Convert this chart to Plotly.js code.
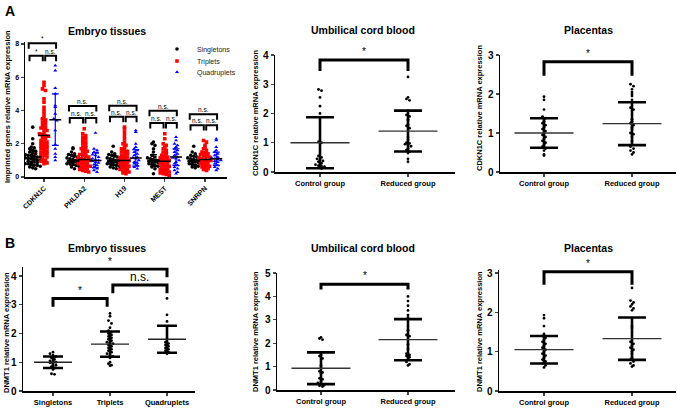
<!DOCTYPE html>
<html>
<head>
<meta charset="utf-8">
<script src="https://cdn.plot.ly/plotly-3.0.1.min.js"></script>
<style>html,body{margin:0;padding:0;background:#fff}</style>
</head>
<body>
<div id="chart" style="width:677px;height:408px"></div>
<script>
const W = 677, H = 408;
const FONT = 'Arial, "Liberation Sans", sans-serif';

// ---- Panel A, embryo tissues: imprinted genes ----
const genes = ['CDKN1C', 'PHLDA2', 'H19', 'MEST', 'SNRPN'];
const groupNames = ['Singletons', 'Triplets', 'Quadruplets'];
const groupColors = ['#000000', '#ff0000', '#0000ff'];
const groupSymbols = ['circle', 'square', 'triangle-up'];

const singletonsA = [
  [3.0, 2.3, 2.0, 1.8, 1.75, 1.7, 1.6, 1.55, 1.5, 1.45, 1.4, 1.35, 1.3, 1.3, 1.25, 1.2, 1.2, 1.15, 1.1, 1.1, 1.05, 1.0, 1.0, 0.95, 0.9, 0.9, 0.85, 0.8, 0.8, 0.75, 0.7, 0.7, 0.65, 0.6, 0.55, 0.5],
  [1.75, 1.7, 1.5, 1.4, 1.35, 1.3, 1.25, 1.2, 1.15, 1.1, 1.05, 1.0, 1.0, 0.95, 0.9, 0.9, 0.85, 0.8, 0.8, 0.75, 0.7, 0.65, 0.6, 0.5],
  [1.85, 1.5, 1.4, 1.35, 1.3, 1.25, 1.2, 1.15, 1.1, 1.05, 1.0, 1.0, 0.95, 0.9, 0.9, 0.85, 0.8, 0.8, 0.75, 0.7, 0.65, 0.6, 0.55, 0.5],
  [2.1, 2.0, 1.9, 1.7, 1.5, 1.3, 1.2, 1.15, 1.1, 1.05, 1.0, 1.0, 0.95, 0.9, 0.9, 0.85, 0.8, 0.75, 0.7, 0.65, 0.6, 0.5, 0.2],
  [1.85, 1.5, 1.4, 1.3, 1.25, 1.2, 1.15, 1.1, 1.05, 1.0, 1.0, 0.95, 0.9, 0.9, 0.85, 0.8, 0.75, 0.7, 0.65, 0.6, 0.55]
];
const tripletsA = [
  [5.7, 5.5, 5.3, 5.2, 4.7, 4.5, 4.2, 4.0, 3.8, 3.6, 3.5, 3.4, 3.3, 3.2, 3.1, 3.0, 2.95, 2.9, 2.8, 2.7, 2.6, 2.55, 2.5, 2.45, 2.4, 2.3, 2.2, 2.15, 2.1, 2.0, 1.95, 1.9, 1.85, 1.8, 1.75, 1.7, 1.6, 1.55, 1.5, 1.45, 1.4, 1.35, 1.3, 1.2, 1.1, 1.0, 0.95, 0.9, 0.85, 0.8],
  [2.9, 2.6, 2.5, 2.4, 2.3, 2.2, 2.1, 2.0, 1.9, 1.8, 1.75, 1.7, 1.6, 1.55, 1.5, 1.4, 1.35, 1.3, 1.25, 1.2, 1.15, 1.1, 1.05, 1.0, 1.0, 0.95, 0.9, 0.85, 0.8, 0.8, 0.75, 0.7, 0.65, 0.6, 0.55, 0.5, 0.45, 0.4, 0.35, 0.3],
  [3.0, 2.9, 2.7, 2.5, 2.3, 2.1, 2.0, 1.9, 1.8, 1.7, 1.6, 1.55, 1.5, 1.45, 1.4, 1.3, 1.25, 1.2, 1.15, 1.1, 1.05, 1.0, 0.95, 0.9, 0.85, 0.8, 0.75, 0.7, 0.65, 0.6, 0.55, 0.5, 0.45, 0.4, 0.35, 0.3, 0.25, 0.2],
  [2.6, 2.3, 2.0, 1.9, 1.8, 1.7, 1.6, 1.5, 1.4, 1.3, 1.25, 1.2, 1.15, 1.1, 1.05, 1.0, 0.95, 0.9, 0.85, 0.8, 0.75, 0.7, 0.65, 0.6, 0.55, 0.5, 0.45, 0.4, 0.35, 0.3, 0.25, 0.2, 0.15, 0.1],
  [2.2, 2.1, 1.9, 1.8, 1.7, 1.6, 1.5, 1.45, 1.4, 1.35, 1.3, 1.25, 1.2, 1.15, 1.1, 1.05, 1.0, 1.0, 0.95, 0.9, 0.85, 0.8, 0.75, 0.7, 0.65, 0.6, 0.55, 0.5, 0.45, 0.4]
];
const quadrupletsA = [
  [6.7, 6.4, 5.35, 5.0, 4.3, 4.2, 3.8, 3.5, 3.4, 2.8, 1.95, 1.7, 1.4, 1.2, 1.0],
  [2.65, 1.7, 1.6, 1.5, 1.45, 1.35, 1.3, 1.2, 1.1, 1.05, 1.0, 0.95, 0.9, 0.85, 0.75, 0.7, 0.6, 0.5, 0.4, 0.3],
  [2.8, 2.7, 2.0, 1.8, 1.7, 1.6, 1.5, 1.4, 1.3, 1.2, 1.15, 1.1, 1.0, 0.9, 0.85, 0.8, 0.7, 0.6, 0.5],
  [2.4, 2.2, 2.0, 1.9, 1.8, 1.7, 1.6, 1.5, 1.4, 1.3, 1.2, 1.15, 1.1, 1.0, 0.9, 0.8, 0.7, 0.6, 0.5, 0.4, 0.3, 0.2],
  [2.3, 2.2, 1.8, 1.6, 1.5, 1.4, 1.3, 1.2, 1.15, 1.1, 1.05, 1.0, 0.95, 0.9, 0.8, 0.7, 0.6, 0.5, 0.4]
];
const meansA = [[1.15, 1.0, 1.0, 1.0, 1.0], [2.5, 1.05, 1.0, 0.95, 1.05], [3.45, 1.0, 1.15, 1.2, 1.1]];
const sdsA = [[0.45, 0.3, 0.3, 0.35, 0.25], [1.0, 0.5, 0.6, 0.5, 0.35], [1.55, 0.45, 0.5, 0.5, 0.4]];
const lowBracketA = [7.3, 3.55, 3.62, 3.25, 3.12];
const highBracketA = [8.04, 4.27, 4.29, 3.99, 3.78];
const lowLabelsA = [['*', 'n.s.'], ['n.s.', 'n.s.'], ['n.s.', 'n.s.'], ['n.s.', 'n.s.'], ['n.s.', 'n.s.']];
const highLabelsA = ['*', 'n.s.', 'n.s.', 'n.s.', 'n.s.'];

// ---- Two-group panels ----
const twoGroups = ['Control group', 'Reduced group'];
const controlUcbA = [2.82, 2.78, 2.55, 2.25, 2.0, 1.03, 1.0, 0.55, 0.5, 0.45, 0.42, 0.38, 0.35, 0.3, 0.25, 0.22, 0.2, 0.18, 0.15, 0.12];
const reducedUcbA = [3.25, 2.55, 2.5, 2.45, 2.1, 1.95, 1.9, 1.8, 1.75, 1.62, 1.58, 1.5, 1.2, 1.1, 1.0, 0.98, 0.95, 0.92, 0.88, 0.8, 0.75, 0.7, 0.65, 0.45, 0.35];
const meanUcbA = [1.0, 1.4], sdUcbA = [0.87, 0.7];

const controlPlaA = [1.93, 1.85, 1.6, 1.42, 1.38, 1.3, 1.25, 1.2, 1.15, 1.1, 1.05, 1.0, 0.95, 0.9, 0.85, 0.8, 0.75, 0.7, 0.65, 0.6, 0.55, 0.45, 0.42];
const reducedPlaA = [2.25, 2.2, 2.12, 2.05, 2.0, 1.95, 1.85, 1.65, 1.6, 1.35, 1.3, 1.25, 1.2, 1.15, 1.1, 1.0, 0.97, 0.9, 0.8, 0.7, 0.65, 0.6, 0.55, 0.5, 0.45];
const meanPlaA = [1.0, 1.24], sdPlaA = [0.38, 0.55];

// ---- Panel B, embryo tissues: DNMT1 ----
const singletonsB = [1.35, 1.3, 1.25, 1.2, 1.15, 1.1, 1.05, 1.02, 1.0, 0.98, 0.95, 0.9, 0.85, 0.8, 0.75, 0.6, 0.58];
const tripletsB = [2.7, 2.6, 2.45, 2.35, 2.2, 2.1, 2.05, 2.0, 1.95, 1.9, 1.85, 1.8, 1.75, 1.7, 1.68, 1.65, 1.6, 1.55, 1.5, 1.45, 1.4, 1.35, 1.3, 1.25, 1.2, 1.15, 1.0, 0.95, 0.9, 0.88];
const quadrupletsB = [3.22, 2.65, 2.42, 1.7, 1.65, 1.6, 1.55, 1.5, 1.45, 1.4, 1.35, 1.3];
const meanEmbB = [1.0, 1.63, 1.8], sdEmbB = [0.2, 0.44, 0.47];

const controlUcbB = [2.25, 2.2, 2.15, 1.5, 1.45, 1.35, 1.05, 0.95, 0.8, 0.75, 0.7, 0.5, 0.45, 0.35, 0.3, 0.25, 0.2, 0.18, 0.15];
const reducedUcbB = [4.0, 3.8, 3.6, 3.4, 3.2, 3.1, 2.55, 2.35, 2.3, 1.95, 1.75, 1.55, 1.5, 1.45, 1.4, 1.3, 1.2, 1.1, 1.05];
const meanUcbB = [0.93, 2.15], sdUcbB = [0.68, 0.88];

const controlPlaB = [1.93, 1.85, 1.65, 1.45, 1.4, 1.35, 1.3, 1.25, 1.2, 1.15, 1.1, 1.05, 1.0, 0.95, 0.9, 0.85, 0.8, 0.75, 0.7, 0.65, 0.6];
const reducedPlaB = [2.62, 2.3, 2.25, 2.2, 2.15, 2.1, 2.05, 1.65, 1.6, 1.25, 1.2, 1.15, 1.1, 1.05, 1.0, 0.95, 0.85, 0.8, 0.75, 0.7, 0.65, 0.62];
const meanPlaB = [1.05, 1.33], sdPlaB = [0.35, 0.54];

// panel boxes in pixels: x axis span, first category px, category step px, y=0 px, a reference tick
const panels = {
  aEmb: { ax: '',  x0: 25,  x1: 227, c0: 44,  step: 40.25, zeroPx: 177, tick: [8, 44],  ymax: 8.15, dtick: 2 },
  aUcb: { ax: '2', x0: 275, x1: 455, c0: 320, step: 88,    zeroPx: 172, tick: [4, 55],  ymax: 4,    dtick: 1 },
  aPla: { ax: '3', x0: 500, x1: 676, c0: 544, step: 88,    zeroPx: 172, tick: [3, 55],  ymax: 3,    dtick: 1 },
  bEmb: { ax: '4', x0: 23,  x1: 195, c0: 53,  step: 57,    zeroPx: 391, tick: [4, 276], ymax: 4.3,  dtick: 1 },
  bUcb: { ax: '5', x0: 277, x1: 455, c0: 321, step: 87,    zeroPx: 390, tick: [5, 273], ymax: 5,    dtick: 1 },
  bPla: { ax: '6', x0: 499, x1: 676, c0: 544, step: 88,    zeroPx: 391, tick: [3, 273], ymax: 3.08, dtick: 1 }
};
for (const p of Object.values(panels)) {
  p.ppy = (p.zeroPx - p.tick[1]) / p.tick[0];
  p.topPx = p.zeroPx - p.ymax * p.ppy;
  p.xr = [(p.x0 - p.c0) / p.step, (p.x1 - p.c0) / p.step];
}

// spread points sideways when they share a value band
function swarm(values, center, p, d) {
  const keys = values.map(v => Math.round(v * p.ppy / d));
  const counts = {}, seen = {};
  keys.forEach(k => counts[k] = (counts[k] || 0) + 1);
  return values.map((v, i) => {
    const k = keys[i];
    seen[k] = seen[k] === undefined ? 0 : seen[k] + 1;
    return center + (seen[k] - (counts[k] - 1) / 2) * d / p.step;
  });
}

const data = [];
const shapes = [];
const annotations = [];

function pointsTrace(p, values, center, opts) {
  data.push(Object.assign({
    x: swarm(values, center, p, opts.spread),
    y: values,
    type: 'scatter', mode: 'markers',
    xaxis: 'x' + p.ax, yaxis: 'y' + p.ax,
    marker: { color: opts.color || '#000', size: opts.size, symbol: opts.symbol || 'circle' },
    showlegend: false, hoverinfo: 'y'
  }, opts.extra || {}));
}

function meanSdTrace(p, mean, sd, center, o) {
  data.push({
    x: [center], y: [mean], type: 'scatter', mode: 'markers',
    xaxis: 'x' + p.ax, yaxis: 'y' + p.ax, showlegend: false, hoverinfo: 'y',
    marker: { symbol: 'line-ew', size: o.meanLen / 1.4, line: { width: o.meanW, color: o.meanColor } },
    error_y: { type: 'data', array: [sd], visible: true, color: o.barColor, thickness: o.barW, width: o.cap }
  });
}

function bracket(p, xa, xb, top, tip, label, o) {
  shapes.push({
    type: 'path', xref: 'x' + p.ax, yref: 'y' + p.ax,
    path: `M${xa},${tip} L${xa},${top} L${xb},${top} L${xb},${tip}`,
    line: { color: '#000', width: o.w }
  });
  annotations.push({
    x: (xa + xb) / 2, y: top, xref: 'x' + p.ax, yref: 'y' + p.ax,
    text: label, showarrow: false, yanchor: 'bottom', yshift: o.shift,
    font: { family: FONT, size: o.size, color: '#000' }
  });
}

// Panel A embryo
const offA = [-0.28, 0, 0.28];
const setsA = [singletonsA, tripletsA, quadrupletsA];
const legendIds = ['legend', 'legend2', 'legend3'];
genes.forEach((g, gi) => {
  setsA.forEach((set, k) => {
    pointsTrace(panels.aEmb, set[gi], gi + offA[k], {
      spread: 3, size: 3.6, color: groupColors[k], symbol: groupSymbols[k],
      extra: { name: groupNames[k], legendgroup: groupNames[k], legend: legendIds[k], showlegend: gi === 0 }
    });
  });
  setsA.forEach((set, k) => {
    meanSdTrace(panels.aEmb, meansA[k][gi], sdsA[k][gi], gi + offA[k],
      { meanLen: 12, meanW: 1.5, meanColor: '#000', barColor: groupColors[k], barW: 1.2, cap: 3.5 });
  });
  const lo = lowBracketA[gi], hi = highBracketA[gi];
  bracket(panels.aEmb, gi - 0.36, gi - 0.03, lo, lo - 0.33, lowLabelsA[gi][0], { w: 2, size: 6.5, shift: -1 });
  bracket(panels.aEmb, gi + 0.03, gi + 0.3, lo, lo - 0.33, lowLabelsA[gi][1], { w: 2, size: 6.5, shift: -1 });
  bracket(panels.aEmb, gi - 0.38, gi + 0.3, hi, hi - 0.33, highLabelsA[gi], { w: 2, size: 6.5, shift: -1 });
});

// two-group panels
function twoGroupPanel(p, ctrl, red, means, sds, br) {
  [ctrl, red].forEach((vals, i) => pointsTrace(p, vals, i, { spread: 3, size: 2.8 }));
  means.forEach((m, i) => meanSdTrace(p, m, sds[i], i,
    { meanLen: 59, meanW: 1.3, meanColor: '#333', barColor: '#000', barW: 2.6, cap: 14 }));
  bracket(p, 0, 1, br[0], br[1], '*', { w: 3, size: 10, shift: 1 });
}
twoGroupPanel(panels.aUcb, controlUcbA, reducedUcbA, meanUcbA, sdUcbA, [3.83, 3.45]);
twoGroupPanel(panels.aPla, controlPlaA, reducedPlaA, meanPlaA, sdPlaA, [2.83, 2.47]);
twoGroupPanel(panels.bUcb, controlUcbB, reducedUcbB, meanUcbB, sdUcbB, [4.52, 4.3]);
twoGroupPanel(panels.bPla, controlPlaB, reducedPlaB, meanPlaB, sdPlaB, [3.03, 2.7]);

// Panel B embryo
[singletonsB, tripletsB, quadrupletsB].forEach((vals, i) => pointsTrace(panels.bEmb, vals, i, { spread: 3, size: 2.8 }));
meanEmbB.forEach((m, i) => meanSdTrace(panels.bEmb, m, sdEmbB[i], i,
  { meanLen: 38, meanW: 1.3, meanColor: '#222', barColor: '#000', barW: 2.6, cap: 10 }));
bracket(panels.bEmb, 0, 0.95, 3.22, 2.93, '*', { w: 3, size: 10, shift: 0 });
bracket(panels.bEmb, 1.05, 2, 3.69, 3.4, 'n.s.', { w: 3, size: 12, shift: -1 });
bracket(panels.bEmb, 0, 2, 4.24, 3.96, '*', { w: 3, size: 10, shift: 0 });

// layout
const layout = {
  width: W, height: H,
  margin: { l: 0, r: 0, t: 0, b: 0 },
  paper_bgcolor: '#fff', plot_bgcolor: 'rgba(0,0,0,0)',
  font: { family: FONT, color: '#000' },
  showlegend: true,
  shapes: shapes,
  annotations: annotations
};
// one small legend per group so the rows sit close together
const legendRowsPx = [49, 61, 72];
legendIds.forEach((id, k) => {
  layout[id] = {
    x: 157 / W, y: 1 - legendRowsPx[k] / H, xanchor: 'left', yanchor: 'middle',
    font: { family: FONT, size: 7, color: '#222' },
    bgcolor: 'rgba(0,0,0,0)', itemwidth: 30, tracegroupgap: 0
  };
});

function axisPair(p, ticktext, tickFont, xTickFont, tickangle) {
  const xa = 'xaxis' + p.ax, ya = 'yaxis' + p.ax;
  layout[xa] = {
    domain: [p.x0 / W, p.x1 / W], range: p.xr, anchor: 'y' + p.ax,
    showline: true, linecolor: '#000', linewidth: 1.5, ticks: 'outside', ticklen: 3, tickwidth: 1.2,
    tickvals: ticktext.map((t, i) => i), ticktext: ticktext, tickangle: tickangle,
    tickfont: xTickFont, showgrid: false, zeroline: false, fixedrange: true
  };
  layout[ya] = {
    domain: [1 - p.zeroPx / H, 1 - p.topPx / H], range: [0, p.ymax], anchor: 'x' + p.ax,
    showline: true, linecolor: '#000', linewidth: 1.5, ticks: 'outside', ticklen: 3, tickwidth: 1.2,
    tickmode: 'linear', tick0: 0, dtick: p.dtick, tickfont: tickFont,
    showgrid: false, zeroline: false, fixedrange: true
  };
}
const bold = (s) => ({ family: FONT, size: s, color: '#000', weight: 'bold' });
axisPair(panels.aEmb, genes, bold(7), bold(7), -45);
axisPair(panels.aUcb, twoGroups, bold(10), bold(7.5), 0);
axisPair(panels.aPla, twoGroups, bold(10), bold(7.5), 0);
axisPair(panels.bEmb, groupNames, bold(10), bold(7.5), 0);
axisPair(panels.bUcb, twoGroups, bold(10), bold(7.5), 0);
axisPair(panels.bPla, twoGroups, bold(10), bold(7.5), 0);

// titles, panel letters, y titles
function paperText(px, py, text, font, angle) {
  annotations.push({ x: px / W, y: 1 - py / H, xref: 'paper', yref: 'paper', text: text,
    showarrow: false, xanchor: 'center', yanchor: 'middle', textangle: angle || 0, font: font });
}
paperText(10, 11, 'A', bold(14));
paperText(10, 243, 'B', bold(14));
paperText(107, 31, 'Embryo tissues', bold(10.5));
paperText(363, 30, 'Umbilical cord blood', bold(10.5));
paperText(588, 30, 'Placentas', bold(10.5));
paperText(107, 248, 'Embryo tissues', bold(10.5));
paperText(363, 248, 'Umbilical cord blood', bold(10.5));
paperText(588, 248, 'Placentas', bold(10.5));
const ytFont = { family: FONT, size: 7.5, color: '#000', weight: 'bold' };
paperText(8, 107, 'Imprinted genes relative mRNA expression', ytFont, -90);
paperText(255, 113, 'CDKN1C relative mRNA expression', ytFont, -90);
paperText(480, 108, 'CDKN1C relative mRNA expression', ytFont, -90);
paperText(6, 333, 'DNMT1 relative mRNA expression', ytFont, -90);
paperText(255, 331, 'DNMT1 relative mRNA expression', ytFont, -90);
paperText(479, 332, 'DNMT1 relative mRNA expression', ytFont, -90);

Plotly.newPlot('chart', data, layout, { staticPlot: true });
</script>
</body>
</html>
